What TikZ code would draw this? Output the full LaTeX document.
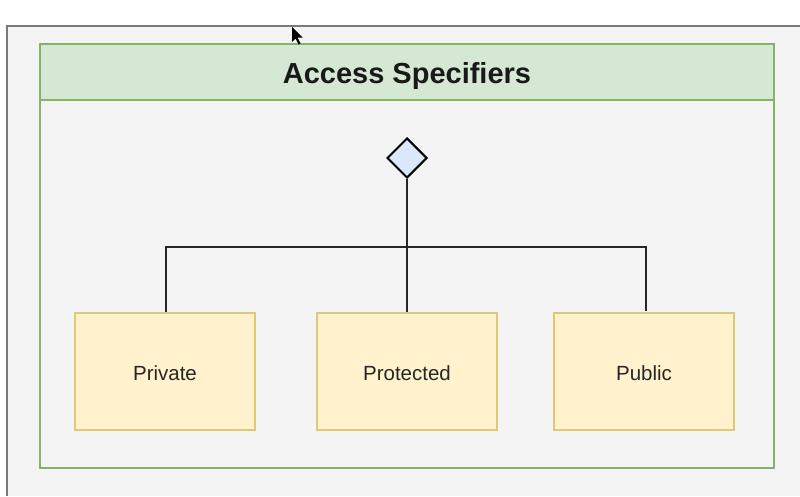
\documentclass[tikz,border=0pt]{standalone}
\usepackage{fontspec}
\setmainfont{Liberation Sans}
\usetikzlibrary{shapes.geometric}
\definecolor{bggray}{HTML}{F4F4F4}
\definecolor{bordergray}{HTML}{7A7A7A}
\definecolor{grnfill}{HTML}{D5E8D4}
\definecolor{grnline}{HTML}{82B366}
\definecolor{yelfill}{HTML}{FFF2CC}
\definecolor{yelline}{HTML}{E0C878}
\definecolor{bluefill}{HTML}{DAE8FC}
\tikzset{
  itembox/.style={draw=yelline, fill=yelfill, line width=1.3pt, minimum width=180pt, minimum height=117pt, inner sep=0pt, font=\fontsize{20.5}{24}\selectfont, text=black!85},
  itemlabel/.style={font=\fontsize{20.5}{24}\selectfont, text=black!85, inner sep=0pt},
  conn/.style={draw=black!85, line width=1.3pt},
  rootdia/.style={diamond, draw=black, fill=bluefill, line width=2pt, minimum width=40pt, minimum height=40pt, inner sep=0pt}
}
\begin{document}
\begin{tikzpicture}[x=1pt,y=-1pt]
\useasboundingbox (0,0) rectangle (800,496);
\fill[white] (0,0) rectangle (800,496);
\fill[bggray] (7,26) rectangle (800,496);
\draw[bordergray, line width=1.2pt] (7,496) -- (7,26) -- (800,26);
% container
\draw[draw=grnline, fill=bggray, line width=1.3pt] (40,44) rectangle (774,468);
\draw[draw=grnline, fill=grnfill, line width=1.3pt] (40,44) rectangle (774,100);
\node[font=\bfseries\fontsize{29}{34}\selectfont, text=black!90] (title) at (407,75.5) {Access Specifiers};
% diamond
\node[rootdia] (d) at (407,158) {};
% boxes
\node[itembox] (priv) at (165,371.5) {};
\node[itembox] (prot) at (407,371.5) {};
\node[itembox] (pub) at (644,371.5) {};
\node[itemlabel] (privl) at ([yshift=-2pt]priv.center) {Private};
\node[itemlabel] (protl) at ([yshift=-2pt]prot.center) {Protected};
\node[itemlabel] (publ) at ([yshift=-2pt]pub.center) {Public};
\coordinate (j) at (407,247);
\coordinate (pl) at (166,247);
\coordinate (pr) at (646,247);
\coordinate (pe) at (646,311);
% connectors
\draw[conn] (d.south) -- (prot.north);
\draw[conn] (priv.north -| pl) -- (pl) -- (pr) -- (pe);
% cursor
\fill[black] (292,27) -- (292,42) -- (295.5,38.5) -- (298.5,44.5) -- (300.5,43.5) -- (297.5,37.5) -- (302.5,37.5) -- cycle;
\end{tikzpicture}
\end{document}
